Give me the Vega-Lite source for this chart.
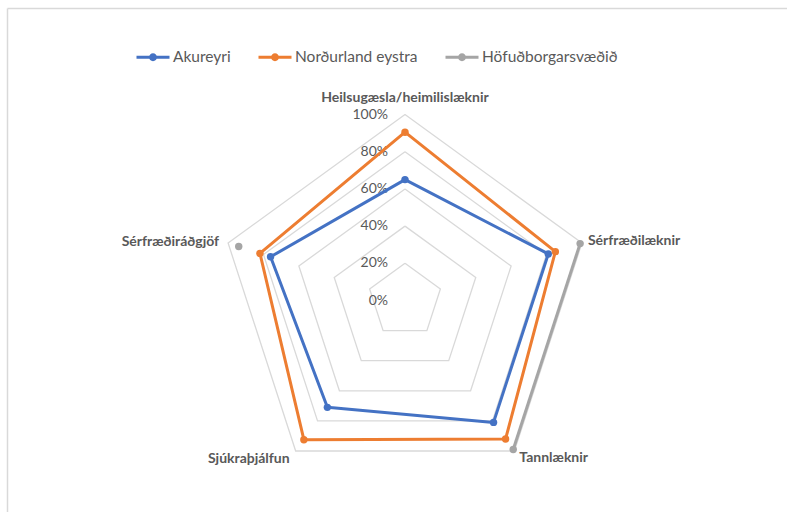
{
  "$schema": "https://vega.github.io/schema/vega-lite/v6.json",
  "width": 780,
  "height": 504,
  "padding": {"left": 7, "top": 8, "right": 0, "bottom": 0},
  "autosize": {"type": "none"},
  "background": "white",
  "config": {
    "view": {"stroke": null},
    "font": "Lato",
    "axis": {"domainColor": "#d9d9d9", "domainWidth": 1.5, "ticks": false, "labels": false, "grid": false}
  },
  "datasets": {
    "survey": [
      {"category": "Heilsugæsla/heimilislæknir", "series": "Akureyri", "value": 65},
      {"category": "Sérfræðilæknir", "series": "Akureyri", "value": 81},
      {"category": "Tannlæknir", "series": "Akureyri", "value": 81},
      {"category": "Sjúkraþjálfun", "series": "Akureyri", "value": 71},
      {"category": "Sérfræðiráðgjöf", "series": "Akureyri", "value": 76},
      {"category": "Heilsugæsla/heimilislæknir", "series": "Norðurland eystra", "value": 90.5},
      {"category": "Sérfræðilæknir", "series": "Norðurland eystra", "value": 85},
      {"category": "Tannlæknir", "series": "Norðurland eystra", "value": 92},
      {"category": "Sjúkraþjálfun", "series": "Norðurland eystra", "value": 92.5},
      {"category": "Sérfræðiráðgjöf", "series": "Norðurland eystra", "value": 82},
      {"category": "Heilsugæsla/heimilislæknir", "series": "Höfuðborgarsvæðið", "value": null},
      {"category": "Sérfræðilæknir", "series": "Höfuðborgarsvæðið", "value": 99},
      {"category": "Tannlæknir", "series": "Höfuðborgarsvæðið", "value": 99},
      {"category": "Sjúkraþjálfun", "series": "Höfuðborgarsvæðið", "value": null},
      {"category": "Sérfræðiráðgjöf", "series": "Höfuðborgarsvæðið", "value": 94}
    ],
    "levels": [{"level": 0}, {"level": 20}, {"level": 40}, {"level": 60}, {"level": 80}, {"level": 100}]
  },
  "layer": [
    {
      "data": {"name": "levels"},
      "transform": [
        {"filter": "datum.level > 0"},
        {"calculate": "[0,1,2,3,4,5]", "as": "k"},
        {"flatten": ["k"]},
        {"calculate": "datum.level*sin(datum.k*2*PI/5)", "as": "x"},
        {"calculate": "datum.level*cos(datum.k*2*PI/5)", "as": "y"}
      ],
      "mark": {"type": "line", "stroke": "#d9d9d9", "strokeWidth": 1.3},
      "encoding": {
        "x": {"field": "x", "type": "quantitative", "scale": {"domain": [-213.98, 205.38], "nice": false, "zero": false}, "axis": {"orient": "top", "title": null}},
        "y": {"field": "y", "type": "quantitative", "scale": {"domain": [-113.71, 157.26], "nice": false, "zero": false}, "axis": {"orient": "left", "title": null}},
        "detail": {"field": "level", "type": "nominal"},
        "order": {"field": "k", "type": "quantitative"}
      }
    },
    {
      "data": {"name": "levels"},
      "transform": [
        {"calculate": "0", "as": "x"},
        {"calculate": "datum.level", "as": "y"},
        {"calculate": "datum.level + '%'", "as": "label"}
      ],
      "mark": {"type": "text", "align": "right", "baseline": "middle", "dx": -17, "fontSize": 14, "color": "#595959"},
      "encoding": {
        "x": {"field": "x", "type": "quantitative", "scale": {"domain": [-213.98, 205.38], "nice": false, "zero": false}, "axis": {"orient": "top", "title": null}},
        "y": {"field": "y", "type": "quantitative", "scale": {"domain": [-113.71, 157.26], "nice": false, "zero": false}, "axis": {"orient": "left", "title": null}},
        "text": {"field": "label", "type": "nominal"}
      }
    },
    {
      "data": {"name": "survey"},
      "transform": [
        {"filter": "datum.series == 'Akureyri'"},
        {"calculate": "indexof(['Heilsugæsla/heimilislæknir','Sérfræðilæknir','Tannlæknir','Sjúkraþjálfun','Sérfræðiráðgjöf'], datum.category)", "as": "idx"},
        {"calculate": "100*sin(datum.idx*2*PI/5)", "as": "x"},
        {"calculate": "100*cos(datum.idx*2*PI/5)", "as": "y"}
      ],
      "mark": {
        "type": "text",
        "fontSize": 14,
        "fontWeight": "bold",
        "color": "#595959",
        "baseline": "middle",
        "align": {"expr": "['center','left','left','right','right'][datum.idx]"},
        "dx": {"expr": "[0,6,5,-6,-9][datum.idx]"},
        "dy": {"expr": "[-17,-2,7,8,-1][datum.idx]"}
      },
      "encoding": {
        "x": {"field": "x", "type": "quantitative", "scale": {"domain": [-213.98, 205.38], "nice": false, "zero": false}, "axis": {"orient": "top", "title": null}},
        "y": {"field": "y", "type": "quantitative", "scale": {"domain": [-113.71, 157.26], "nice": false, "zero": false}, "axis": {"orient": "left", "title": null}},
        "text": {"field": "category", "type": "nominal"}
      }
    },
    {
      "data": {"name": "survey"},
      "transform": [
        {"calculate": "indexof(['Heilsugæsla/heimilislæknir','Sérfræðilæknir','Tannlæknir','Sjúkraþjálfun','Sérfræðiráðgjöf'], datum.category)", "as": "idx"},
        {"calculate": "datum.idx == 0 ? [0,5] : [datum.idx]", "as": "ks"},
        {"flatten": ["ks"]},
        {"calculate": "datum.value == null ? null : datum.value*sin(datum.ks*2*PI/5)", "as": "x"},
        {"calculate": "datum.value == null ? null : datum.value*cos(datum.ks*2*PI/5)", "as": "y"}
      ],
      "mark": {"type": "line", "strokeWidth": 3, "strokeJoin": "round", "invalid": "break-paths-filter-domains"},
      "encoding": {
        "x": {"field": "x", "type": "quantitative", "scale": {"domain": [-213.98, 205.38], "nice": false, "zero": false}, "axis": {"orient": "top", "title": null}},
        "y": {"field": "y", "type": "quantitative", "scale": {"domain": [-113.71, 157.26], "nice": false, "zero": false}, "axis": {"orient": "left", "title": null}},
        "order": {"field": "ks", "type": "quantitative"},
        "color": {
          "field": "series",
          "type": "nominal",
          "scale": {"domain": ["Akureyri", "Norðurland eystra", "Höfuðborgarsvæðið"], "range": ["#4472C4", "#ED7D31", "#A5A5A5"]},
          "legend": {
            "orient": "none",
            "legendX": 128,
            "legendY": 31,
            "direction": "horizontal",
            "title": null,
            "symbolType": "M-1,0L1,0M-0.15,0A0.15,0.15,0,1,1,0.15,0A0.15,0.15,0,1,1,-0.15,0Z",
            "symbolSize": 1089,
            "symbolStrokeWidth": 3,
            "labelFontSize": 15.5,
            "labelColor": "#595959",
            "labelFont": "Lato",
            "labelOffset": 2,
            "columnPadding": 21,
            "encode": {"symbols": {"update": {"fill": {"scale": "color", "field": "value"}, "stroke": {"scale": "color", "field": "value"}}}}
          }
        }
      }
    },
    {
      "data": {"name": "survey"},
      "transform": [
        {"filter": {"field": "value", "valid": true}},
        {"calculate": "indexof(['Heilsugæsla/heimilislæknir','Sérfræðilæknir','Tannlæknir','Sjúkraþjálfun','Sérfræðiráðgjöf'], datum.category)", "as": "idx"},
        {"calculate": "datum.value*sin(datum.idx*2*PI/5)", "as": "x"},
        {"calculate": "datum.value*cos(datum.idx*2*PI/5)", "as": "y"}
      ],
      "mark": {"type": "point", "filled": true, "size": 55, "opacity": 1},
      "encoding": {
        "x": {"field": "x", "type": "quantitative", "scale": {"domain": [-213.98, 205.38], "nice": false, "zero": false}, "axis": {"orient": "top", "title": null}},
        "y": {"field": "y", "type": "quantitative", "scale": {"domain": [-113.71, 157.26], "nice": false, "zero": false}, "axis": {"orient": "left", "title": null}},
        "color": {"field": "series", "type": "nominal", "scale": {"domain": ["Akureyri", "Norðurland eystra", "Höfuðborgarsvæðið"], "range": ["#4472C4", "#ED7D31", "#A5A5A5"]}}
      }
    }
  ]
}
